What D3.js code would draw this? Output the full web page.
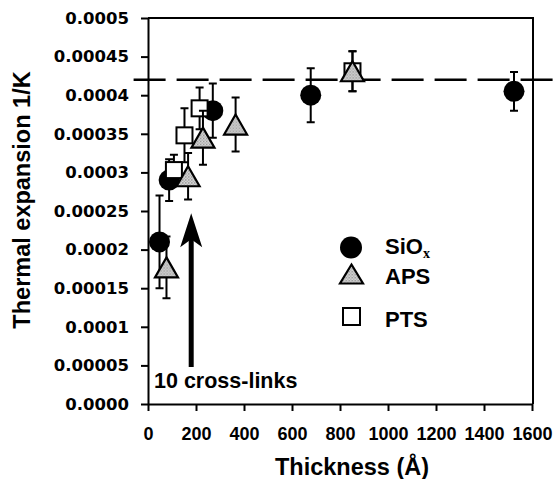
<!DOCTYPE html>
<html>
<head>
<meta charset="utf-8">
<script src="https://cdn.jsdelivr.net/npm/d3@7"></script>
<style>
  body { margin: 0; background: #fff; }
  svg { display: block; }
  text { font-family: "Liberation Sans", Arial, sans-serif; font-weight: bold; fill: #000; }
</style>
</head>
<body>
<script>
// SiOx films
var sioxThick = [48, 88, 270, 678, 1525]
var sioxExp = [0.00021, 0.00029, 0.00038, 0.0004, 0.000405]
var sioxErr = [0.00006, 0.000027, 0.000035, 0.000035, 0.000025]

// PTS films
var ptsThick = [108, 152, 215, 852]
var ptsExp = [0.000303, 0.000348, 0.000383, 0.000431]
var ptsErr = [0.00002, 0.000035, 0.000027, 0.000026]

// APS films
var apsThick = [77, 167, 229, 365, 852]
var apsExp = [0.000177, 0.000295, 0.000345, 0.000362, 0.000431]
var apsErr = [0.00004, 0.00003, 0.000035, 0.000035, 0.000026]

var xTicks = [0, 200, 400, 600, 800, 1000, 1200, 1400, 1600]
var yTicks = [0, 0.00005, 0.0001, 0.00015, 0.0002, 0.00025, 0.0003, 0.00035, 0.0004, 0.00045, 0.0005]
var yTickLabels = ["0.0000", "0.00005", "0.0001", "0.00015", "0.0002", "0.00025",
                   "0.0003", "0.00035", "0.0004", "0.00045", "0.0005"]

var bulkLevel = 0.00042            // dashed reference line
var arrowX = 180                   // "10 cross-links" arrow
var arrowFrom = 0.000048
var arrowTo = 0.000247

var width = 556
var height = 479

var svg = d3.select("body")
            .append("svg")
            .attr("width", width)
            .attr("height", height)

var defs = svg.append("defs")
var pat = defs.append("pattern")
              .attr("id", "stipple")
              .attr("width", 3)
              .attr("height", 3)
              .attr("patternUnits", "userSpaceOnUse")
pat.append("rect").attr("width", 3).attr("height", 3).attr("fill", "#e2e2e2")
pat.append("rect").attr("width", 1.5).attr("height", 1.5).attr("fill", "#8a8a8a")
pat.append("rect").attr("x", 1.5).attr("y", 1.5).attr("width", 1.5).attr("height", 1.5).attr("fill", "#a8a8a8")

var xScale = d3.scaleLinear()
               .domain([0, 1600])
               .range([148, 532])
var yScale = d3.scaleLinear()
               .domain([0, 0.0005])
               .range([404, 18])

// frame top + right
svg.append("path")
   .attr("d", "M" + xScale(0) + "," + yScale(0.0005) + "H" + (xScale(1600) + 1) + "V" + yScale(0))
   .attr("fill", "none")
   .attr("stroke", "#000")
   .attr("stroke-width", 2)

var xAxis = d3.axisBottom(xScale)
              .tickValues(xTicks)
              .tickSize(7)
              .tickPadding(16)
              .tickSizeOuter(0)
              .tickFormat(d3.format("d"))
var yAxis = d3.axisLeft(yScale)
              .tickValues(yTicks)
              .tickSize(7)
              .tickPadding(12)
              .tickSizeOuter(0)
              .tickFormat(function(d, i){ return yTickLabels[i] })

var gx = svg.append("g")
            .attr("transform", "translate(0," + yScale(0) + ")")
            .call(xAxis)
var gy = svg.append("g")
            .attr("transform", "translate(" + xScale(0) + ",0)")
            .call(yAxis)

gx.selectAll("text").style("font-size", "18px").style("font-family", "Liberation Sans, Arial, sans-serif")
gy.selectAll("text").style("font-size", "16.5px").style("font-family", "DejaVu Sans, sans-serif")
svg.selectAll(".domain").attr("stroke-width", 2)
svg.selectAll(".tick line").attr("stroke-width", 2)

// dashed bulk line
svg.append("line")
   .attr("x1", xScale(-60))
   .attr("x2", xScale(1700))
   .attr("y1", yScale(bulkLevel))
   .attr("y2", yScale(bulkLevel))
   .attr("stroke", "#000")
   .attr("stroke-width", 2.5)
   .attr("stroke-dasharray", "32,11")

// axis titles
svg.append("text")
   .attr("transform", "translate(30,200) rotate(-90)")
   .attr("text-anchor", "middle")
   .style("font-size", "23.5px")
   .text("Thermal expansion 1/K")
svg.append("text")
   .attr("x", 352)
   .attr("y", 475)
   .attr("text-anchor", "middle")
   .style("font-size", "23.5px")
   .text("Thickness (Å)")

// arrow
var ax = xScale(arrowX)
var tipY = yScale(arrowTo)
svg.append("line")
   .attr("x1", ax).attr("x2", ax)
   .attr("y1", yScale(arrowFrom)).attr("y2", tipY + 20)
   .attr("stroke", "#000")
   .attr("stroke-width", 5)
svg.append("path")
   .attr("d", "M" + ax + "," + tipY + "L" + (ax + 11) + "," + (tipY + 34) +
              "L" + ax + "," + (tipY + 26) + "L" + (ax - 11) + "," + (tipY + 34) + "Z")
   .attr("fill", "#000")
svg.append("text")
   .attr("x", 154)
   .attr("y", 388)
   .style("font-size", "21.5px")
   .text("10 cross-links")

const triPath = function(w, h){
  return "M0," + (-h / 2) + "L" + (w / 2) + "," + (h / 2) + "L" + (-w / 2) + "," + (h / 2) + "Z"
}

const drawSeries = function(thick, vals, errs, kind){
  var pts = thick.map(function(t, i){ return [t, vals[i], errs[i]] })
  var g = svg.append("g")
  var bars = g.selectAll(".err").data(pts).enter().append("g").attr("class", "err")
  bars.append("line")
      .attr("x1", function(d){ return xScale(d[0]) })
      .attr("x2", function(d){ return xScale(d[0]) })
      .attr("y1", function(d){ return yScale(d[1] - d[2]) })
      .attr("y2", function(d){ return yScale(d[1] + d[2]) })
  bars.append("path")
      .attr("d", function(d){
        var x = xScale(d[0])
        return "M" + (x - 4) + "," + yScale(d[1] - d[2]) + "h8" +
               "M" + (x - 4) + "," + yScale(d[1] + d[2]) + "h8"
      })
  bars.selectAll("line, path").attr("stroke", "#000").attr("stroke-width", 2).attr("fill", "none")

  var marks = g.selectAll(".mark").data(pts).enter()
  if (kind == "circle"){
    marks.append("circle")
         .attr("cx", function(d){ return xScale(d[0]) })
         .attr("cy", function(d){ return yScale(d[1]) })
         .attr("r", 10.5)
         .attr("fill", "#000")
  }
  else if (kind == "square"){
    marks.append("rect")
         .attr("x", function(d){ return xScale(d[0]) - 8 })
         .attr("y", function(d){ return yScale(d[1]) - 8 })
         .attr("width", 16)
         .attr("height", 16)
         .attr("fill", "#fff")
         .attr("stroke", "#000")
         .attr("stroke-width", 2)
  }
  else {
    marks.append("path")
         .attr("d", triPath(23, 20))
         .attr("transform", function(d){ return "translate(" + xScale(d[0]) + "," + yScale(d[1]) + ")" })
         .attr("fill", "url(#stipple)")
         .attr("stroke", "#000")
         .attr("stroke-width", 2.2)
         .attr("stroke-linejoin", "miter")
  }
}

drawSeries(sioxThick, sioxExp, sioxErr, "circle")
drawSeries(ptsThick, ptsExp, ptsErr, "square")
drawSeries(apsThick, apsExp, apsErr, "triangle")

// legend
var leg = svg.append("g")
leg.append("circle").attr("cx", 351).attr("cy", 247.5).attr("r", 11).attr("fill", "#000")
leg.append("path")
   .attr("d", triPath(23, 19))
   .attr("transform", "translate(351.5,274)")
   .attr("fill", "url(#stipple)")
   .attr("stroke", "#000")
   .attr("stroke-width", 2.2)
leg.append("rect")
   .attr("x", 343).attr("y", 308).attr("width", 17).attr("height", 17)
   .attr("fill", "#fff").attr("stroke", "#000").attr("stroke-width", 2)

var t1 = leg.append("text").attr("x", 385).attr("y", 254).style("font-size", "22px")
t1.append("tspan").text("SiO")
t1.append("tspan").attr("dy", 4).style("font-size", "14px").style("font-family", "Liberation Serif, serif").text("x")
leg.append("text").attr("x", 385).attr("y", 284).style("font-size", "22px").text("APS")
leg.append("text").attr("x", 385).attr("y", 327).style("font-size", "22px").text("PTS")
</script>
</body>
</html>
